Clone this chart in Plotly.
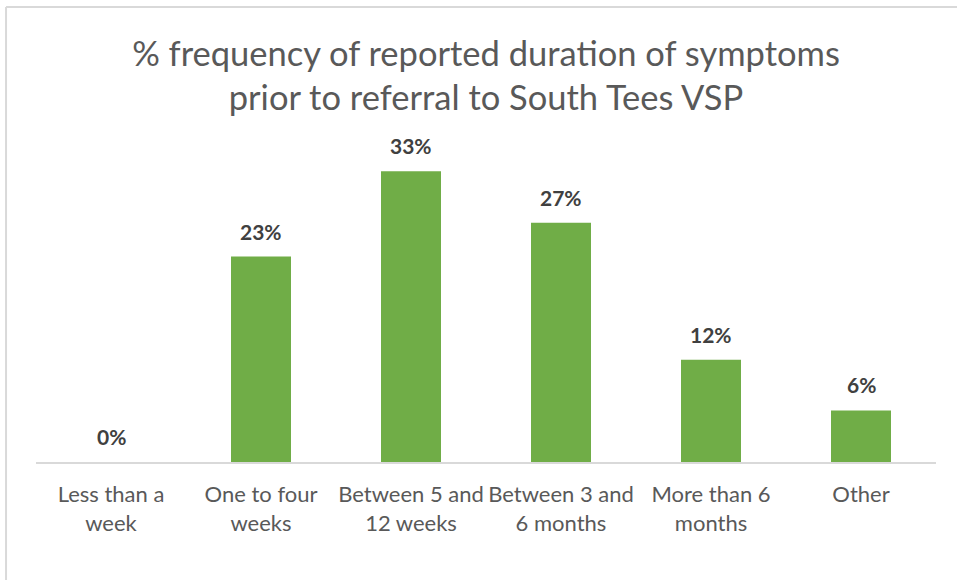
import plotly.graph_objects as go

categories = ["Less than a<br>week", "One to four<br>weeks", "Between 5 and<br>12 weeks",
              "Between 3 and<br>6 months", "More than 6<br>months", "Other"]
values = [0.0, 23.1, 32.7, 26.9, 11.5, 5.8]
labels = [f"{round(v)}%" for v in values]

GREEN = "#70AD47"
FONT = "Lato, 'Open Sans', sans-serif"

fig = go.Figure()
fig.add_trace(go.Bar(
    x=categories, y=values,
    marker=dict(color=GREEN, line=dict(width=0)),
    hoverinfo="skip",
))

for c, v, t in zip(categories, values, labels):
    fig.add_annotation(x=c, y=v, text=t, showarrow=False, yanchor="bottom", yshift=11,
                       font=dict(family=FONT, size=21, color="#404040", weight="bold"))

# chart border (top and left, like the source image crop)
fig.add_shape(type="line", xref="paper", yref="paper", x0=-0.0333, x1=1.03, y0=1.413, y1=1.413,
              line=dict(color="#D9D9D9", width=2))
fig.add_shape(type="line", xref="paper", yref="paper", x0=-0.0333, x1=-0.0333, y0=1.413, y1=-0.4,
              line=dict(color="#D9D9D9", width=2))

fig.update_layout(
    width=957, height=580,
    margin=dict(l=36, r=21, t=140, b=118),
    paper_bgcolor="white", plot_bgcolor="white",
    bargap=0.6,
    showlegend=False,
    title=dict(text="% frequency of reported duration of symptoms<br>prior to referral to South Tees VSP",
               x=0.5, xref="paper", y=0.887, yref="container", yanchor="middle", xanchor="center",
               font=dict(family=FONT, size=34.5, color="#595959")),
    xaxis=dict(showline=True, linecolor="#D9D9D9", linewidth=2, ticks="", showgrid=False,
               tickfont=dict(family=FONT, size=22, color="#595959"), ticklabelstandoff=12),
    yaxis=dict(range=[0, 36.2], visible=False, showgrid=False, zeroline=False),
)

fig.write_html("out.html", config={"displayModeBar": False},
               post_script="document.body.style.margin='0';document.body.style.overflow='hidden';")
